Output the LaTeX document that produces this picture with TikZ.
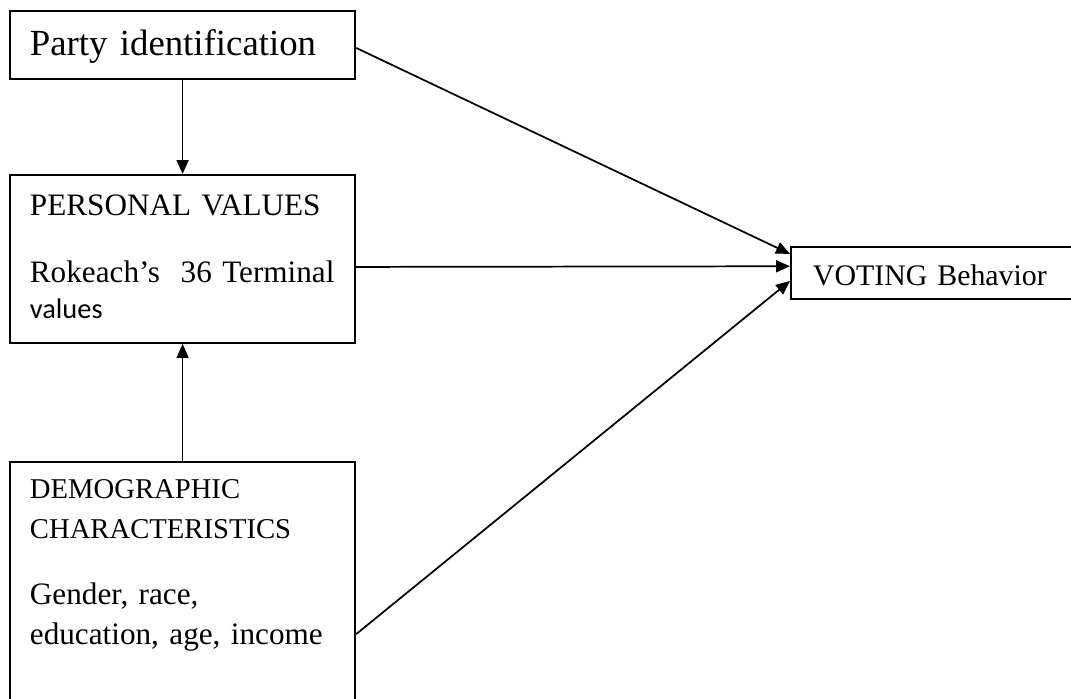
\documentclass[tikz,border=0pt]{standalone}
\usepackage{fontspec}
\setmainfont{Liberation Serif}
\setsansfont{Carlito}
\usetikzlibrary{arrows.meta}
\tikzset{
  box/.style={draw, line width=1.4pt, anchor=north west, align=left, inner xsep=15pt, inner ysep=0pt, text width=229pt},
  arr/.style={-{Triangle[length=10.5pt,width=9pt]}, line width=1.3pt}
}
\begin{document}
\begin{tikzpicture}[x=0.75pt, y=0.75pt, yscale=-1]
  \useasboundingbox (0,0) rectangle (1071,699);
  \node[box, font=\fontsize{27.6}{32}\selectfont, text height=33.75pt, text depth=17.25pt] (party) at (9,10) {Party identification};
  \node[box, font=\fontsize{23.4}{27}\selectfont, text height=30.75pt, text depth=95.25pt] (values) at (9,174)
    {PERSONAL VALUES\\[23.25pt]Rokeach's\ \ 36 Terminal\\{\sffamily\fontsize{21.3}{27}\selectfont values}};
  \node[box, font=\fontsize{23.4}{30}\selectfont, text height=27.75pt, text depth=166.5pt] (demo) at (9,461)
    {{\fontsize{21.5}{30}\selectfont DEMOGRAPHIC\\CHARACTERISTICS}\\[19.5pt]Gender, race,\\education, age, income};
  \node[box, font=\fontsize{22.4}{27}\selectfont, text width=192pt, inner xsep=16.5pt, text height=29.25pt, text depth=9.75pt] (vote) at (790,246) {VOTING Behavior};
  \draw[arr] (party.south) -- (values.north);
  \draw[arr, line width=0.8pt] (demo.north) -- (values.south);
  \draw[arr] ([yshift=2.25pt]party.east) -- ([yshift=-14.25pt]vote.west);
  \draw[arr] ([yshift=6pt]values.east) -- ([yshift=-5pt]vote.west);
  \draw[arr] ([yshift=32pt]demo.east) -- ([yshift=6pt]vote.west);
\end{tikzpicture}
\end{document}
